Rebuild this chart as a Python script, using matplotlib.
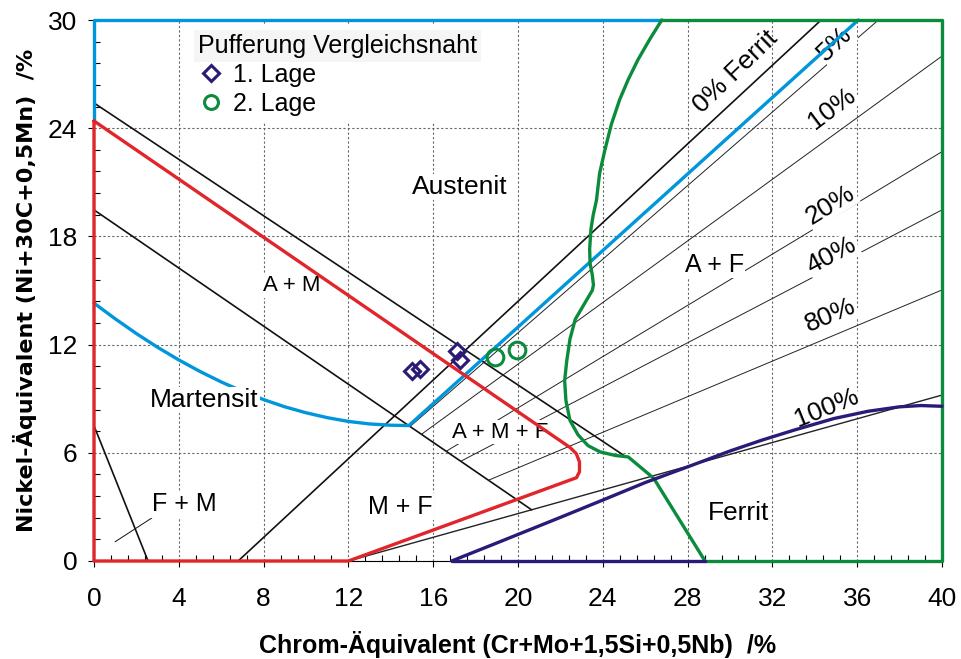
import matplotlib.pyplot as plt
import numpy as np
from matplotlib.ticker import MultipleLocator
from matplotlib.lines import Line2D

plt.rcParams['font.family'] = ['Liberation Sans', 'DejaVu Sans']

# Gefügebereiche (Cr-Äquivalent, Ni-Äquivalent)
martensit_x = [0, 1, 2, 3, 4, 5, 6, 7, 8, 9, 10, 11, 12, 13, 14, 14.85, 36.05]
martensit_y = [14.3, 13.43, 12.61, 11.85, 11.15, 10.51, 9.93, 9.41, 8.95, 8.55, 8.22, 7.95,
               7.74, 7.6, 7.53, 7.51, 30]

am_x = [0, 22.45, 22.75, 22.9, 22.9, 22.76, 12, 0, 0]
am_y = [24.4, 6.3, 5.95, 5.5, 4.95, 4.62, 0, 0, 24.4]

ferrit_grenze_x = [26.78, 26.2, 25.66, 25.2, 24.8, 24.4, 24.1, 23.85, 23.7, 23.55, 23.44,
                   23.38, 23.4, 23.5, 23.56, 23.5, 23.1, 22.7, 22.45, 22.3, 22.2, 22.26,
                   22.45, 22.83, 23.3, 23.87, 24.6, 25.2, 26.4, 28.82]
ferrit_grenze_y = [30, 28.9, 27.8, 26.7, 25.6, 24.2, 22.8, 21.5, 20.0, 19.2, 18.4,
                   17.3, 16.5, 15.9, 15.3, 15.0, 14.2, 13.4, 12.3, 11.1, 10.0, 8.9,
                   7.8, 7.0, 6.4, 6.05, 5.85, 5.77, 4.59, 0]

delta_x = [16.87, 19.15, 22, 24, 26, 28.3, 30, 31.5, 33, 34.9, 36.5, 38, 39, 40]
delta_y = [0, 1.07, 2.42, 3.38, 4.35, 5.35, 6.1, 6.7, 7.25, 7.9, 8.3, 8.55, 8.62, 8.58]

# Hilfslinien (Anfang -> Ende)
linie_x0 = [0, 0, 6.8, 0, 1.0]
linie_y0 = [25.4, 19.47, 0, 7.5, 1.07]
linie_x1 = [25.0, 20.64, 34.3, 2.55, 2.72]
linie_y1 = [5.85, 2.84, 30, 0, 2.38]

# Ferritlinien
ferrit_proz = ['5%', '10%', '20%', '40%', '80%', '100%']
ferrit_x0 = [14.95, 15.45, 16.62, 17.3, 18.61, 12.0]
ferrit_y0 = [7.5, 7.03, 6.09, 5.53, 4.48, 0.0]
ferrit_x1 = [37.0, 40, 40, 40, 40, 40]
ferrit_y1 = [30, 28.0, 22.7, 19.47, 15.03, 9.2]

# Messpunkte Pufferung
lage1_cr = [14.98, 15.38, 17.1, 17.26]
lage1_ni = [10.55, 10.65, 11.66, 11.15]
lage2_cr = [18.92, 19.94]
lage2_ni = [11.33, 11.7]

rot = '#e0262a'
blau = '#0096dc'
gruen = '#0a8c3c'
navy = '#2c1a78'

fig = plt.figure(figsize=(9.62, 6.59), dpi=100)
ax = fig.add_axes([94 / 962, 1 - 561 / 659, 848 / 962, 541 / 659])
ax.set_xlim(0, 40)
ax.set_ylim(0, 30)

ax.xaxis.set_major_locator(MultipleLocator(4))
ax.xaxis.set_minor_locator(MultipleLocator(0.8))
ax.yaxis.set_major_locator(MultipleLocator(6))
ax.yaxis.set_minor_locator(MultipleLocator(1.2))
ax.tick_params(which='major', direction='out', length=4, width=0.8, labelsize=19)
ax.tick_params(which='minor', direction='in', length=4, width=0.8)
ax.tick_params(axis='x', pad=15)
ax.tick_params(axis='y', pad=8)
ax.grid(True, which='major', color='#666666', linestyle=(0, (2, 2)), linewidth=0.8, zorder=0)
ax.set_axisbelow(True)

ax.set_xlabel('Chrom-Äquivalent (Cr+Mo+1,5Si+0,5Nb)  /%', fontsize=18, fontweight='bold',
              labelpad=14)
ax.set_ylabel('Nickel-Äquivalent (Ni+30C+0,5Mn)  /%', fontsize=16, fontweight='bold',
              family=['DejaVu Sans'], labelpad=8)

# schwarze Hilfslinien
for i in range(len(linie_x0)):
    lw = 0.7 if i == 4 else 1.2
    ax.plot([linie_x0[i], linie_x1[i]], [linie_y0[i], linie_y1[i]], color='#111111', lw=lw, zorder=2)
for i in range(len(ferrit_proz)):
    lw = 1.0 if ferrit_proz[i] == '100%' else 0.7
    ax.plot([ferrit_x0[i], ferrit_x1[i]], [ferrit_y0[i], ferrit_y1[i]], color='#222222', lw=lw, zorder=2)

# farbige Bereichsgrenzen
kw = dict(lw=2.4, zorder=4, clip_on=False, solid_joinstyle='round', solid_capstyle='round')
ax.plot(martensit_x, martensit_y, color=blau, **kw)
ax.plot([0, 0, 26.78], [24.4, 30, 30], color=blau, **kw)
ax.plot(am_x, am_y, color=rot, **kw)
ax.plot(ferrit_grenze_x, ferrit_grenze_y, color=gruen, **kw)
ax.plot([26.78, 40, 40, 28.82], [30, 30, 0, 0], color=gruen, **kw)
ax.plot(delta_x, delta_y, color=navy, **kw)
ax.plot([16.87, 28.82], [0, 0], color=navy, **kw)

# Bereichsbeschriftungen
box = dict(facecolor='white', edgecolor='none', pad=1)
ax.text(17.26, 20.74, 'Austenit', fontsize=19, ha='center', va='center', bbox=box, zorder=3)
ax.text(9.34, 15.25, 'A + M', fontsize=16, ha='center', va='center', bbox=box, zorder=3)
ax.text(5.19, 8.93, 'Martensit', fontsize=19, ha='center', va='center', bbox=box, zorder=5)
ax.text(19.15, 7.15, 'A + M + F', fontsize=16, ha='center', va='center', bbox=box, zorder=3)
ax.text(29.25, 16.42, 'A + F', fontsize=18, ha='center', va='center', bbox=box, zorder=3)
ax.text(4.25, 3.16, 'F + M', fontsize=18, ha='center', va='center', bbox=box, zorder=3)
ax.text(14.43, 3.0, 'M + F', fontsize=18, ha='center', va='center', bbox=box, zorder=3)
ax.text(30.4, 2.66, 'Ferrit', fontsize=19, ha='center', va='center', bbox=box, zorder=3)
ax.text(30.24, 27.1, '0% Ferrit', fontsize=19, ha='center', va='center', rotation=44,
        rotation_mode='anchor', zorder=3)

proz_pos = [(34.95, 28.7, 44), (34.8, 25.1, 37), (34.72, 19.75, 32),
            (34.8, 16.97, 28), (34.72, 13.64, 23), (34.56, 8.47, 22)]
for lab, (px, py, r) in zip(ferrit_proz, proz_pos):
    ax.text(px, py, lab, fontsize=19, ha='center', va='center', rotation=r,
            rotation_mode='anchor', bbox=box, zorder=3)

# Messpunkte
ax.plot(lage1_cr, lage1_ni, linestyle='none', marker='D', ms=8, mfc='none', mec=navy,
        mew=2.2, zorder=6)
ax.plot(lage2_cr, lage2_ni, linestyle='none', marker='o', ms=12, mfc='none', mec=gruen,
        mew=2.2, zorder=6)

handles = [Line2D([], [], linestyle='none', marker='D', ms=8, mfc='none', mec=navy, mew=2.2),
           Line2D([], [], linestyle='none', marker='o', ms=10, mfc='none', mec=gruen, mew=2.2)]
leg = ax.legend(handles, ['1. Lage', '2. Lage'], title='Pufferung Vergleichsnaht',
                loc='upper left', bbox_to_anchor=(0.114, 0.988), fontsize=18,
                title_fontsize=18, frameon=True, facecolor='white', edgecolor='none',
                framealpha=1, fancybox=False, borderpad=0.3, labelspacing=0.2,
                handlelength=1.0, handletextpad=0.4, alignment='left', borderaxespad=0)
leg.get_title().set_bbox(dict(facecolor='#f5f5f5', edgecolor='none', pad=3))
leg.set_zorder(7)

fig.savefig('out.png', dpi=100)
